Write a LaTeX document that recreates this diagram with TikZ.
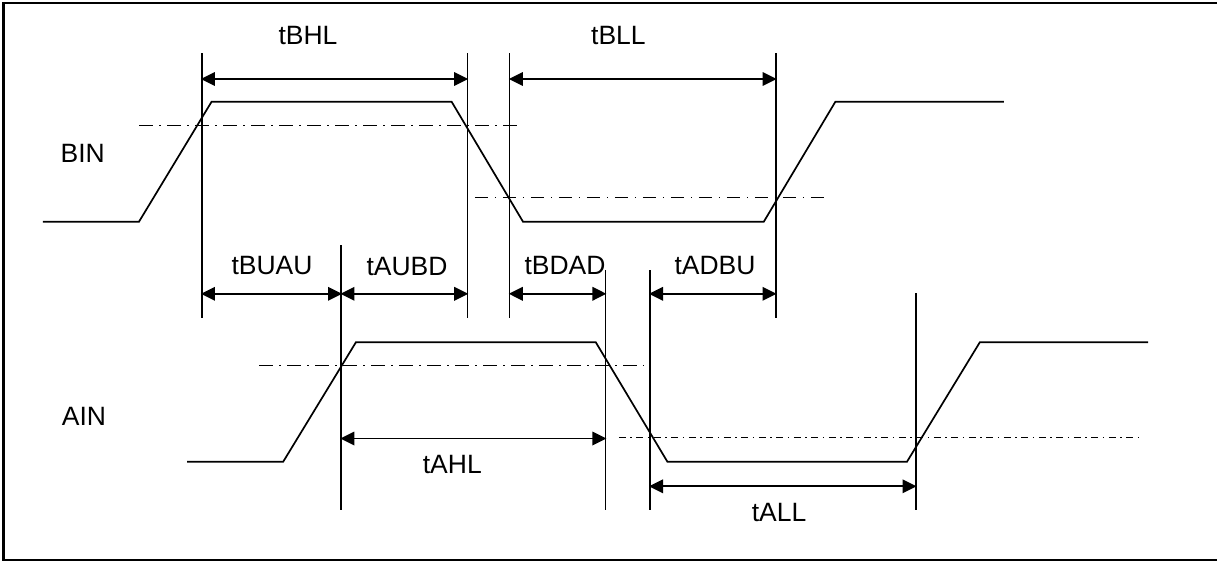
\documentclass[tikz,border=0pt]{standalone}
\usepackage{fontspec}
\setmainfont{Liberation Sans}
\usetikzlibrary{arrows.meta}
\begin{document}
\begin{tikzpicture}[x=1pt,y=-1pt,
  sig/.style={line width=1.7pt, line join=miter},
  vline/.style={line width=1.6pt},
  dimarrow/.style={line width=1.8pt, {Triangle[length=14pt,width=13.5pt]}-{Triangle[length=14pt,width=13.5pt]}, shorten <=-0.8pt, shorten >=-0.8pt},
  thr/.style={line width=1.4pt, dash pattern=on 13.5pt off 6.5pt on 1.5pt off 6.5pt},
  thrfine/.style={line width=1.4pt, dash pattern=on 7pt off 4.5pt on 1.5pt off 4.5pt},
  lbl/.style={inner sep=0pt, font=\fontsize{26.5}{30}\selectfont}]
\useasboundingbox (0,0) rectangle (1217,562);
\draw[line width=2.2pt] (1230,3) -- (3.5,3) -- (3.5,560) -- (1230,560);

% vertical reference lines
\coordinate (v1t) at (201.7,53);  \coordinate (v1b) at (201.7,318);
\coordinate (v2t) at (467.4,53);  \coordinate (v2b) at (467.4,318);
\coordinate (v3t) at (509.6,53);  \coordinate (v3b) at (509.6,318);
\coordinate (v4t) at (775.8,53);  \coordinate (v4b) at (775.8,318);
\coordinate (v5t) at (341.2,245); \coordinate (v5b) at (341.2,510);
\coordinate (v6t) at (605.6,270); \coordinate (v6b) at (605.6,510);
\coordinate (v7t) at (649.8,270); \coordinate (v7b) at (649.8,510);
\coordinate (v8t) at (915.8,293); \coordinate (v8b) at (915.8,510);
\foreach \v in {v1,v2,v3,v4,v5,v6,v7,v8}
  \draw[vline] (\v t) -- (\v b);

% thresholds
\draw[thr] (139,125.7) -- (522.7,125.7);
\draw[thr] (474.8,197.7) -- (829,197.7);
\draw[thr] (259,365.7) -- (643.7,365.7);
\draw[thrfine] (618.8,437.7) -- (1141,437.7);

% signals
\draw[sig] (42.9,221.7) -- (139,221.7) -- (211.6,101.7) -- (451.6,101.7) -- (523,221.7) -- (763.8,221.7) -- (835.4,101.7) -- (1003.8,101.7);
\draw[sig] (187.1,461.7) -- (283.2,461.7) -- (355.9,342.3) -- (595.8,342.3) -- (667.4,461.7) -- (907,461.7) -- (979.8,342.3) -- (1148.2,342.3);

% dimension arrows
\coordinate (a1) at (201.7,79);   \coordinate (a2) at (467.4,79);
\coordinate (a3) at (509.6,79);   \coordinate (a4) at (775.8,79);
\coordinate (b1) at (201.7,293.8); \coordinate (b5) at (341.2,293.8);
\coordinate (b2) at (467.4,293.8); \coordinate (b3) at (509.6,293.8);
\coordinate (b6) at (605.6,293.8); \coordinate (b7) at (649.8,293.8);
\coordinate (b4) at (775.8,293.8);
\coordinate (c5) at (341.2,438.5); \coordinate (c6) at (605.6,438.5);
\coordinate (d7) at (649.8,486.3);   \coordinate (d8) at (915.8,486.3);
\draw[dimarrow] (a1) -- (a2);
\draw[dimarrow] (a3) -- (a4);
\draw[dimarrow] (b1) -- (b5);
\draw[dimarrow] (b5) -- (b2);
\draw[dimarrow] (b3) -- (b6);
\draw[dimarrow] (b7) -- (b4);
\draw[dimarrow] (c5) -- (c6);
\draw[dimarrow] (d7) -- (d8);

% labels
\node[lbl] (tBHL) at (308,35) {tBHL};
\node[lbl] (tBLL) at (618.4,35) {tBLL};
\node[lbl] (BIN) at (82.7,153.5) {BIN};
\node[lbl] (AIN) at (84,416) {AIN};
\node[lbl] (tBUAU) at (272,265.5) {tBUAU};
\node[lbl] (tAUBD) at (407,267) {tAUBD};
\node[lbl] (tBDAD) at (565,265.5) {tBDAD};
\node[lbl] (tADBU) at (715,265.5) {tADBU};
\node[lbl] (tAHL) at (452.3,464) {tAHL};
\node[lbl] (tALL) at (779,512) {tALL};
\end{tikzpicture}
\end{document}
